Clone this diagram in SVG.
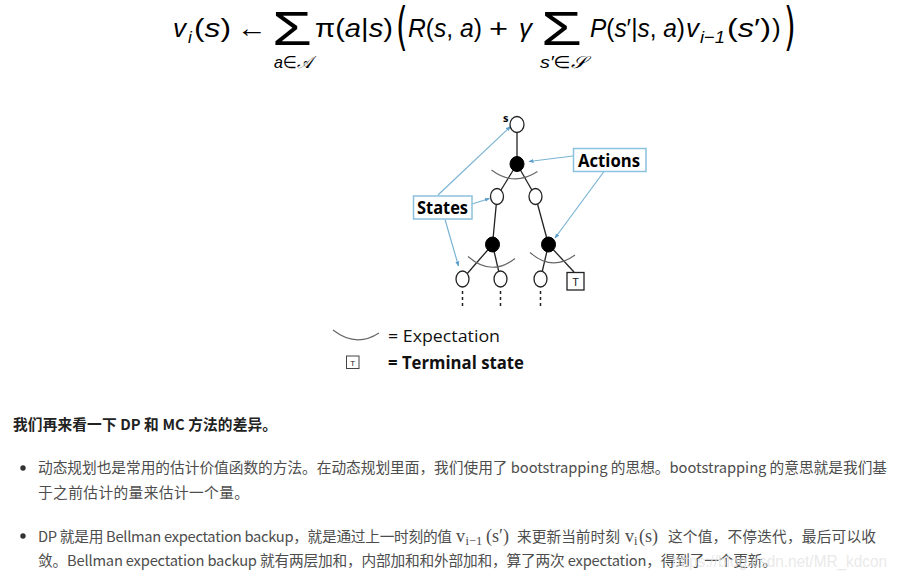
<svg xmlns="http://www.w3.org/2000/svg" width="897" height="581" viewBox="0 0 897 581">
<defs>
<style>
.m{font-family:"Liberation Sans","DejaVu Sans",sans-serif;font-size:26px;fill:#000}
.it{font-style:italic}
.sub{font-size:17px}
.sm{font-size:17px}
.big{font-family:"DejaVu Sans","Liberation Sans",sans-serif;font-size:40px;fill:#000}
.st{fill:#fff;stroke:#222;stroke-width:1.3}
.ac{fill:#000;stroke:#000;stroke-width:1}
.edge{stroke:#222;stroke-width:1.3;fill:none}
.arc{stroke:#666;stroke-width:1.1;fill:none}
.dash{stroke:#222;stroke-width:1.5;stroke-dasharray:3 3;fill:none}
.blue{stroke:#7ab3d4;stroke-width:1.2;fill:none}
.lbox{fill:#fff;stroke:#8cc1dd;stroke-width:1.5}
.lbl{font-family:"Open Sans","Liberation Sans",sans-serif;font-weight:bold;font-size:18px;fill:#000}
.leg{font-family:"Open Sans","Liberation Sans",sans-serif;font-size:17px;fill:#111}
.tt{font-family:"Liberation Sans",sans-serif;font-size:11px;fill:#222}
.cn{font-family:"Noto Sans CJK SC","Noto Sans",sans-serif;font-size:14.7px;fill:#4d4d4d}
.hd{font-family:"Noto Sans CJK SC","Noto Sans",sans-serif;font-size:14.7px;font-weight:bold;fill:#222}
.kx{font-family:"Liberation Serif",serif;font-size:18px;fill:#4d4d4d}
.kxs{font-family:"Liberation Serif",serif;font-size:12.5px;fill:#4d4d4d}
.wm{font-family:"Liberation Sans",sans-serif;font-size:16px;fill:#e2e2e2;fill-opacity:0.75}
</style>
<marker id="ah" viewBox="0 0 10 10" refX="9" refY="5" markerWidth="5" markerHeight="5" markerUnits="userSpaceOnUse" orient="auto">
<path d="M0,1 L10,5 L0,9 z" fill="#5d9fc8"/>
</marker>
</defs>
<rect width="897" height="581" fill="#fff"/>

<g id="formula">
<text class="m it" x="173" y="37">v</text>
<text class="m it sub" x="188" y="43">i</text>
<text class="m" x="194" y="37" textLength="37" lengthAdjust="spacingAndGlyphs">(<tspan class="it">s</tspan>)</text>
<text class="m" x="237" y="37" textLength="30" lengthAdjust="spacingAndGlyphs">←</text>
<text class="m" x="272" y="45" style="font-size:49px" textLength="40" lengthAdjust="spacingAndGlyphs">Σ</text>
<text class="m it sm" x="274" y="68" textLength="38" lengthAdjust="spacingAndGlyphs">a<tspan style="font-style:normal">∈</tspan>𝒜</text>
<text class="m" x="315" y="37" textLength="78" lengthAdjust="spacingAndGlyphs">π(<tspan class="it">a</tspan>|<tspan class="it">s</tspan>)</text>
<text class="big" transform="translate(396,44) scale(0.75,1.3)">(</text>
<text class="m" x="408" y="37" textLength="74" lengthAdjust="spacingAndGlyphs"><tspan class="it">R</tspan>(<tspan class="it">s</tspan>, <tspan class="it">a</tspan>)</text>
<text class="m" x="489" y="37" textLength="19" lengthAdjust="spacingAndGlyphs">+</text>
<text class="m it" x="519" y="37">γ</text>
<text class="m" x="541" y="45" style="font-size:49px" textLength="41" lengthAdjust="spacingAndGlyphs">Σ</text>
<text class="m it sm" x="540" y="68" textLength="46" lengthAdjust="spacingAndGlyphs">s′<tspan style="font-style:normal">∈</tspan>𝒮</text>
<text class="m" x="590" y="37" textLength="95" lengthAdjust="spacingAndGlyphs"><tspan class="it">P</tspan>(<tspan class="it">s</tspan>′|<tspan class="it">s</tspan>, <tspan class="it">a</tspan>)</text>
<text class="m it" x="686" y="37">v</text>
<text class="m it sub" x="700" y="43" textLength="25" lengthAdjust="spacingAndGlyphs">i<tspan style="font-style:normal">−</tspan>1</text>
<text class="m" x="727" y="37" textLength="44" lengthAdjust="spacingAndGlyphs">(<tspan class="it">s</tspan>′)</text>
<text class="m" x="772" y="37">)</text>
<text class="big" transform="translate(784,44) scale(0.75,1.3)">)</text>
</g>

<g id="connectors">
<line class="edge" x1="517" y1="132" x2="517" y2="157"/>
<line class="edge" x1="517" y1="164" x2="497" y2="196.5"/>
<line class="edge" x1="517" y1="164" x2="535.5" y2="196.5"/>
<line class="edge" x1="497" y1="196.5" x2="492.5" y2="244.5"/>
<line class="edge" x1="535.5" y1="196.5" x2="548.5" y2="244.5"/>
<line class="edge" x1="492.5" y1="244.5" x2="462.5" y2="279"/>
<line class="edge" x1="492.5" y1="244.5" x2="500.5" y2="279"/>
<line class="edge" x1="548.5" y1="244.5" x2="540.5" y2="279"/>
<line class="edge" x1="548.5" y1="244.5" x2="574" y2="272"/>
<line class="dash" x1="462.5" y1="291" x2="462.5" y2="306"/>
<line class="dash" x1="500.5" y1="291" x2="500.5" y2="306"/>
<line class="dash" x1="540.5" y1="291" x2="540.5" y2="306"/>
<path class="arc" d="M491.5,170 Q514,187 537.5,171.5"/>
<path class="arc" d="M468,256.5 Q491.5,277 515,258.5"/>
<path class="arc" d="M530,252.5 Q552,272 575,255"/>
<line class="blue" x1="438" y1="195" x2="510.5" y2="126.5" marker-end="url(#ah)"/>
<line class="blue" x1="472" y1="204" x2="489.5" y2="198.5" marker-end="url(#ah)"/>
<line class="blue" x1="445" y1="219.5" x2="458.5" y2="266" marker-end="url(#ah)"/>
<line class="blue" x1="573" y1="156" x2="529" y2="161.5" marker-end="url(#ah)"/>
<line class="blue" x1="604" y1="171.5" x2="555" y2="238" marker-end="url(#ah)"/>
</g>

<g id="node-s">
<ellipse class="st" cx="517" cy="124.5" rx="7" ry="8"/>
<text x="503" y="121.5" style="font-family:'Open Sans','Liberation Sans',sans-serif;font-size:11px;font-weight:bold">s</text>
</g>
<g id="node-a0"><ellipse class="ac" cx="517" cy="164" rx="7" ry="7.5"/></g>
<g id="node-s1l"><ellipse class="st" cx="497" cy="196.5" rx="6.5" ry="8"/></g>
<g id="node-s1r"><ellipse class="st" cx="535.5" cy="196.5" rx="6.5" ry="8"/></g>
<g id="node-a1l"><ellipse class="ac" cx="492.5" cy="244.5" rx="7" ry="7.5"/></g>
<g id="node-a1r"><ellipse class="ac" cx="548.5" cy="244.5" rx="7" ry="7.5"/></g>
<g id="node-s2a"><ellipse class="st" cx="462.5" cy="279" rx="6.5" ry="8"/></g>
<g id="node-s2b"><ellipse class="st" cx="500.5" cy="279" rx="6.5" ry="8"/></g>
<g id="node-s2c"><ellipse class="st" cx="540.5" cy="279" rx="6.5" ry="8"/></g>
<g id="node-t">
<rect class="st" x="567" y="272.5" width="17" height="17.5"/>
<text class="tt" x="575.5" y="285.5" text-anchor="middle">T</text>
</g>
<g id="label-states">
<rect class="lbox" x="413.5" y="196" width="58.5" height="23"/>
<text class="lbl" x="417" y="214" textLength="51" lengthAdjust="spacingAndGlyphs">States</text>
</g>
<g id="label-actions">
<rect class="lbox" x="573.5" y="148.5" width="72.5" height="23"/>
<text class="lbl" x="578" y="167" textLength="62" lengthAdjust="spacingAndGlyphs">Actions</text>
</g>

<g id="legend">
<path class="arc" d="M333,330 Q356,348 379,333"/>
<text class="leg" x="388" y="342" textLength="112" lengthAdjust="spacingAndGlyphs">= Expectation</text>
<rect x="346.5" y="356" width="12.5" height="12.5" fill="#fff" stroke="#444" stroke-width="1"/>
<text class="tt" x="352.7" y="365.8" text-anchor="middle" style="font-size:8px">T</text>
<text class="leg" x="388" y="369" font-weight="bold" textLength="136" lengthAdjust="spacingAndGlyphs">= Terminal state</text>
</g>

<g id="text">
<text class="hd" x="13" y="430" textLength="264">我们再来看一下 DP 和 MC 方法的差异。</text>
<circle cx="23" cy="468" r="2.7" fill="#333"/>
<text class="cn" x="38" y="473" textLength="849">动态规划也是常用的估计价值函数的方法。在动态规划里面，我们使用了 bootstrapping 的思想。bootstrapping 的意思就是我们基</text>
<text class="cn" x="38" y="498" textLength="211">于之前估计的量来估计一个量。</text>
<circle cx="23" cy="536" r="2.7" fill="#333"/>
<text class="cn" x="38" y="541.5" textLength="414">DP 就是用 Bellman expectation backup，就是通过上一时刻的值</text>
<text class="kx" x="456" y="541.5">v</text>
<text class="kxs" x="465.5" y="545">i−1</text>
<text class="kx" x="486" y="541.5">(s′)</text>
<text class="cn" x="517" y="541.5" textLength="103">来更新当前时刻</text>
<text class="kx" x="625" y="541.5">v</text>
<text class="kxs" x="634" y="545">i</text>
<text class="kx" x="639" y="541.5">(s)</text>
<text class="cn" x="668" y="541.5" textLength="208">这个值，不停迭代，最后可以收</text>
<text class="cn" x="38" y="566" textLength="739">敛。Bellman expectation backup 就有两层加和，内部加和和外部加和，算了两次 expectation，得到了一个更新。</text>
<text class="wm" x="672" y="567" textLength="215" lengthAdjust="spacingAndGlyphs">https://blog.csdn.net/MR_kdcon</text>
</g>
</svg>
